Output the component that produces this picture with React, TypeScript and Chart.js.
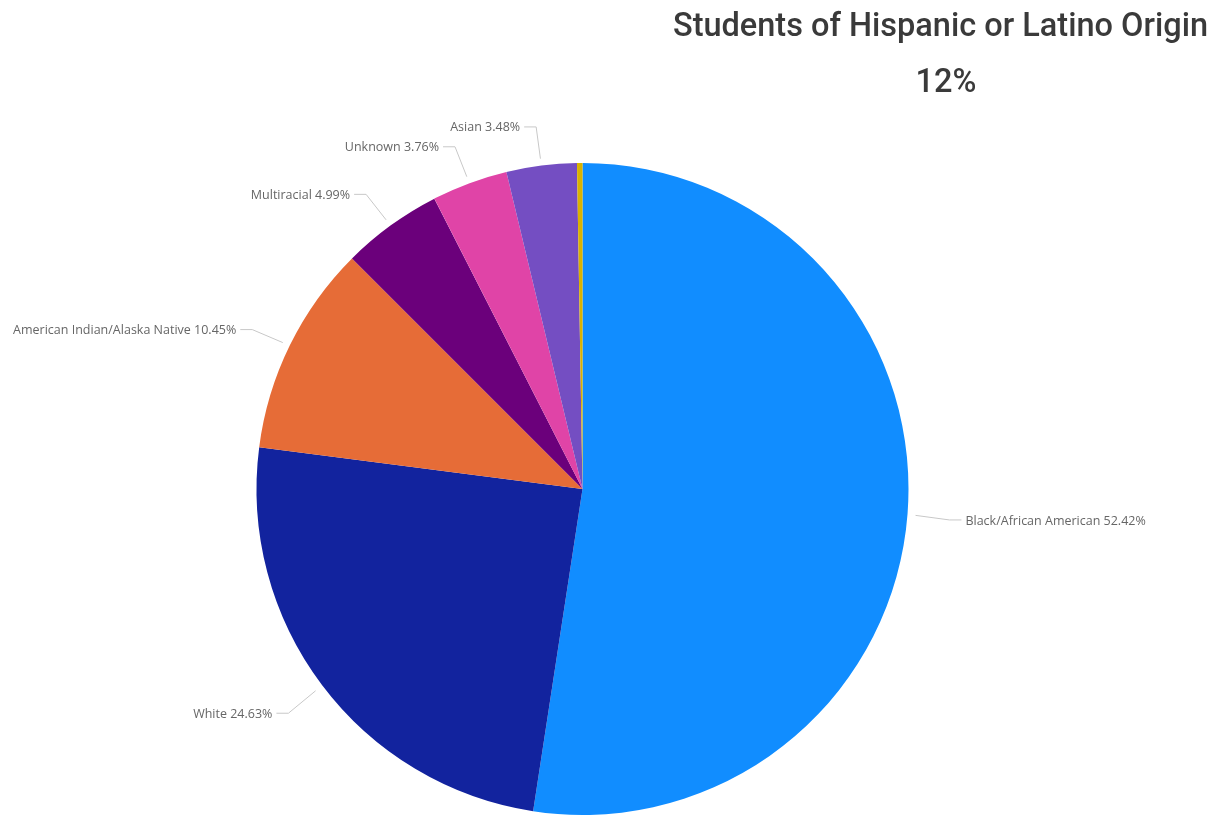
import React, { useEffect, useRef } from "react";
import { Chart, registerables } from "chart.js";

Chart.register(...registerables);

const categories = [
  "Black/African American",
  "White",
  "American Indian/Alaska Native",
  "Multiracial",
  "Unknown",
  "Asian",
  "Native Hawaiian/Pacific Islander",
];
const values = [52.42, 24.63, 10.45, 4.99, 3.76, 3.48, 0.27];
const colors = ["#118DFF", "#12239E", "#E66C37", "#6B007B", "#E044A7", "#744EC2", "#D9B300"];
const titleText = "Students of Hispanic or Latino Origin";
const subtitleText = "12%";

const labelPlugin = {
  id: "leaderLabels",
  afterDatasetsDraw(chart: any) {
    const ctx = chart.ctx;
    const meta = chart.getDatasetMeta(0);
    ctx.save();
    ctx.font = "12.5px 'Open Sans', 'Noto Sans', sans-serif";
    ctx.textBaseline = "middle";
    meta.data.forEach((arc: any, i: number) => {
      const v = values[i];
      if (v < 1) return;
      const mid = (arc.startAngle + arc.endAngle) / 2;
      const r = arc.outerRadius;
      const cx = arc.x;
      const cy = arc.y;
      const x1 = cx + Math.cos(mid) * (r + 8);
      const y1 = cy + Math.sin(mid) * (r + 8) + 1;
      const x2 = cx + Math.cos(mid) * (r + 42);
      const y2 = cy + Math.sin(mid) * (r + 42) + 3;
      const right = Math.cos(mid) >= 0;
      const x3 = x2 + (right ? 12 : -12);
      ctx.strokeStyle = "#c8c8c8";
      ctx.lineWidth = 1;
      ctx.beginPath();
      ctx.moveTo(x1, y1);
      ctx.lineTo(x2, y2);
      ctx.lineTo(x3, y2);
      ctx.stroke();
      ctx.fillStyle = "#666666";
      ctx.textAlign = right ? "left" : "right";
      ctx.fillText(`${categories[i]} ${v.toFixed(2)}%`, x3 + (right ? 4 : -4), y2 + 1);
    });
    ctx.restore();
  },
};

const titlePlugin = {
  id: "cardTitle",
  afterDraw(chart: any) {
    const ctx = chart.ctx;
    ctx.save();
    ctx.fillStyle = "#3a3a3a";
    ctx.textAlign = "center";
    ctx.textBaseline = "alphabetic";
    ctx.font = "500 32.5px Roboto, 'Noto Sans', sans-serif";
    ctx.fillText(titleText, 940.5, 36);
    ctx.fillText(subtitleText, 946, 92);
    ctx.restore();
  },
};

export default function App() {
  const ref = useRef<HTMLCanvasElement | null>(null);
  useEffect(() => {
    if (!ref.current) return;
    const chart = new Chart(ref.current, {
      type: "pie",
      data: {
        labels: categories,
        datasets: [
          {
            data: values,
            backgroundColor: colors,
            borderWidth: 0,
          },
        ],
      },
      options: {
        animation: false,
        responsive: true,
        maintainAspectRatio: false,
        layout: { padding: { left: 255, right: 313, top: 163, bottom: 4 } },
        plugins: {
          legend: { display: false },
          tooltip: { enabled: false },
          title: { display: false },
        },
      },
      plugins: [labelPlugin, titlePlugin],
    });
    return () => chart.destroy();
  }, []);
  return (
    <div style={{ position: "fixed", left: 0, top: 0, width: 1223, height: 819, background: "#ffffff" }}>
      <canvas ref={ref} />
    </div>
  );
}
